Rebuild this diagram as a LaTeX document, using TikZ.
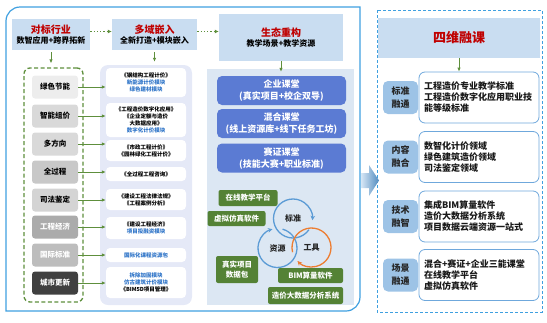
\documentclass[tikz,border=0pt]{standalone}
\usepackage{fontspec}
\setmainfont{Noto Sans CJK SC}
\usetikzlibrary{arrows.meta,positioning}
\definecolor{skyline}{HTML}{3FA0E0}
\definecolor{hdrbg}{HTML}{C9DDF1}
\definecolor{titlered}{HTML}{C00000}
\definecolor{leaf}{HTML}{5E8F3C}
\definecolor{lilacbg}{HTML}{E5E9F7}
\definecolor{linkblue}{HTML}{2E74C8}
\definecolor{paneblue}{HTML}{DCE7F3}
\definecolor{classblue}{HTML}{5B7BD3}
\definecolor{taggreen}{HTML}{548235}
\definecolor{ringblue}{HTML}{5B9BD5}
\definecolor{ringorange}{HTML}{ED7D31}
\definecolor{tabblue}{HTML}{9DC3E6}
\definecolor{rimblue}{HTML}{6FA8DC}
\definecolor{gryA}{HTML}{EDEDED}
\definecolor{gryB}{HTML}{D9D9D9}
\definecolor{gryC}{HTML}{C8C8C8}
\definecolor{gryD}{HTML}{D4D4D4}
\definecolor{gryE}{HTML}{ABABAB}
\definecolor{gryF}{HTML}{BDBDBD}
\definecolor{gryG}{HTML}{404040}
\newcommand{\hdtitle}[1]{{\color{titlered}\fontsize{10}{12}\selectfont #1}}
\newcommand{\blu}[1]{\textcolor{linkblue}{#1}}
\newcommand{\ringarc}[3]{\draw[#2,line width=1.3pt,-{Stealth[length=4.5pt,width=4.5pt]}] ([shift={(#3+330:19.5pt)}]#1.center) arc[start angle=#3+330,end angle=#3,radius=19.5pt];}
\tikzset{
  hdr/.style={fill=hdrbg,align=center,inner sep=0pt,font=\bfseries\fontsize{8}{10}\selectfont},
  lvbox/.style={rounded corners=3pt,minimum width=46pt,minimum height=23pt,inner sep=0pt,font=\bfseries\fontsize{7.5}{9}\selectfont},
  midbox/.style={fill=white,rounded corners=4pt,minimum width=80pt,inner sep=0pt,align=center,font=\bfseries\fontsize{5.5}{7}\selectfont},
  clsbox/.style={fill=classblue,rounded corners=5pt,minimum width=129pt,minimum height=29pt,inner sep=0pt,text=white,align=center,font=\bfseries\fontsize{9}{12}\selectfont},
  tag/.style={fill=taggreen,rounded corners=2pt,inner sep=0pt,text=white,align=center,font=\bfseries\fontsize{7.5}{9}\selectfont},
  ringlbl/.style={inner sep=0pt,font=\bfseries\fontsize{8}{10}\selectfont,text=black!85},
  tab/.style={fill=tabblue,rounded corners=5pt,minimum width=35pt,minimum height=33pt,inner sep=0pt,align=center,text=black!85,font=\bfseries\fontsize{9}{13}\selectfont},
  rtext/.style={draw=rimblue,fill=white,line width=.8pt,rounded corners=6pt,minimum width=120pt,minimum height=51pt,text width=110pt,inner sep=0pt,align=left,text=black!90,font=\bfseries\fontsize{9}{11}\selectfont},
  garr/.style={leaf,line width=.9pt,-{Latex[length=4pt,width=3.5pt]}},
  dotarr/.style={leaf,line width=1.3pt,dotted,-{Latex[length=4pt,width=4pt]}}
}
\begin{document}
\begin{tikzpicture}[x=1pt,y=1pt]
\useasboundingbox (0,0) rectangle (547,-322);
\draw[skyline,line width=1.2pt] (6,-311) -- (6,-21) arc[start angle=180,end angle=90,radius=14pt] -- (360,-7) -- (360,-297) arc[start angle=0,end angle=-90,radius=14pt] -- cycle;
\draw[skyline,line width=1pt,dash pattern=on 3pt off 2pt] (377,-10) rectangle (542,-312);
\node[draw=leaf,line width=1.3pt,dash pattern=on 4pt off 2.5pt,rounded corners=6pt,minimum width=59pt,minimum height=234pt] (grp) at (53.5,-185) {};
\node[fill=lilacbg,rounded corners=8pt,minimum width=92pt,minimum height=240pt] (midbg) at (146,-185) {};
\node[fill=paneblue,minimum width=147pt,minimum height=236pt] (panebg) at (280.5,-187) {};
\node[hdr,minimum width=78pt,minimum height=31pt] (bench) at (51,-34.5) {\hdtitle{对标行业}\\数智应用+跨界拓新};
\node[hdr,minimum width=85pt,minimum height=31pt] (embed) at (154.5,-34.5) {\hdtitle{多域嵌入}\\全新打造+模块嵌入};
\node[hdr,minimum width=124pt,minimum height=47pt] (eco) at (281,-37.5) {\hdtitle{生态重构}\\教学场景+教学资源};
\node[hdr,minimum width=162pt,minimum height=40pt,font=\bfseries\fontsize{13}{15}\selectfont,text=titlered] (four) at (459,-38) {四维融课};
\draw[dotarr] ([yshift=3pt]bench.east) -- ([yshift=3pt]embed.west);
\draw[dotarr] ([yshift=3pt]embed.east) -- ([yshift=3pt]embed.east -| eco.west);
\draw[garr,shorten <=2pt,shorten >=4pt] (bench.south) -- (bench.south |- grp.north);
\draw[garr,shorten <=2pt,shorten >=3pt] (embed.south) -- (embed.south |- midbg.north);
\draw[garr,shorten >=-3pt] (eco.south) -- (eco.south |- panebg.north);
\foreach \i/\t/\c/\tc/\y in {1/绿色节能/gryA/black/87,2/智能组价/gryB/black/116,3/多方向/gryB/black/144,4/全过程/gryC/black/172,5/司法鉴定/gryD/black/200,6/工程经济/gryE/white/227,7/国际标准/gryF/white/255,8/城市更新/gryG/white/283}
  \node[lvbox,fill=\c,text=\tc] (lv\i) at (55,-\y) {\t};
\node[midbox,minimum height=29pt] (mb1) at (146,-82.5) {《钢结构工程计价》\\\blu{新能源计价模块}\\\blu{绿色建材模块}};
\node[midbox,minimum height=34pt] (mb2) at (146,-120) {《工程造价数字化应用》\\《企业定额与造价\\大数据应用》\\\blu{数字化计价模块}};
\node[midbox,minimum height=21pt] (mb3) at (146,-150.5) {《市政工程计价》\\《园林绿化工程计价》};
\node[midbox,minimum height=14pt] (mb4) at (146,-174) {《全过程工程咨询》};
\node[midbox,minimum height=21pt] (mb5) at (146,-199.5) {《建设工程法律法规》\\《工程案例分析》};
\node[midbox,minimum height=22pt] (mb6) at (146,-228) {《建设工程经济》\\\blu{项目投融资模块}};
\node[midbox,minimum height=14pt] (mb7) at (146,-255) {\blu{国际化课程资源包}};
\node[midbox,minimum height=31pt] (mb8) at (146,-282.5) {\blu{拆除加固模块}\\\blu{仿古建筑计价模块}\\《BIM5D项目管理》};
\foreach \i in {1,...,8}
  \draw[garr] (lv\i.east) -- (lv\i.east -| mb\i.west);
\node[clsbox] (cls1) at (281.5,-90.5) {企业课堂\\(真实项目+校企双导)};
\node[clsbox] (cls2) at (281.5,-123.5) {混合课堂\\(线上资源库+线下任务工坊)};
\node[clsbox] (cls3) at (281.5,-158) {赛证课堂\\(技能大赛+职业标准)};
\node[tag,minimum width=59pt,minimum height=16pt] (tg1) at (248,-198) {在线教学平台};
\node[tag,minimum width=58pt,minimum height=15pt] (tg2) at (236.5,-218.5) {虚拟仿真软件};
\node[tag,minimum width=42pt,minimum height=27pt] (tg3) at (237,-269.5) {真实项目\\[1pt]数据包};
\node[tag,minimum width=65pt,minimum height=15pt] (tg4) at (310.5,-275.5) {BIM算量软件};
\node[tag,minimum width=75pt,minimum height=17pt] (tg5) at (305.5,-295.5) {造价大数据分析系统};
\node[ringlbl] (std) at (293,-218.5) {标准};
\node[ringlbl] (res) at (277.5,-248) {资源};
\node[ringlbl] (tool) at (311.5,-247.5) {工具};
\ringarc{std}{ringblue}{-5}
\ringarc{res}{ringblue}{105}
\ringarc{tool}{ringorange}{224}
\shade[left color=ringblue!25,right color=ringblue!90!black] (361,-173) -- (369,-173) -- (369,-165) -- (379,-180.5) -- (369,-196) -- (369,-188) -- (361,-188) -- cycle;
\node[tab] (rl1) at (400.5,-97.5) {标准\\融通};
\node[tab] (rl2) at (400.5,-157) {内容\\融合};
\node[tab] (rl3) at (400.5,-216.5) {技术\\融智};
\node[tab] (rl4) at (400.5,-275) {场景\\融通};
\node[rtext] (rt1) at (479,-97.5) {工程造价专业教学标准\\工程造价数字化应用职业技\\能等级标准};
\node[rtext] (rt2) at (479,-157) {数智化计价领域\\绿色建筑造价领域\\司法鉴定领域};
\node[rtext] (rt3) at (479,-216.5) {集成BIM算量软件\\造价大数据分析系统\\项目数据云端资源一站式};
\node[rtext] (rt4) at (479,-275) {混合+赛证+企业三能课堂\\在线教学平台\\虚拟仿真软件};
\draw[garr] (four.south) -- (four.south |- rt1.north);
\end{tikzpicture}
\end{document}
